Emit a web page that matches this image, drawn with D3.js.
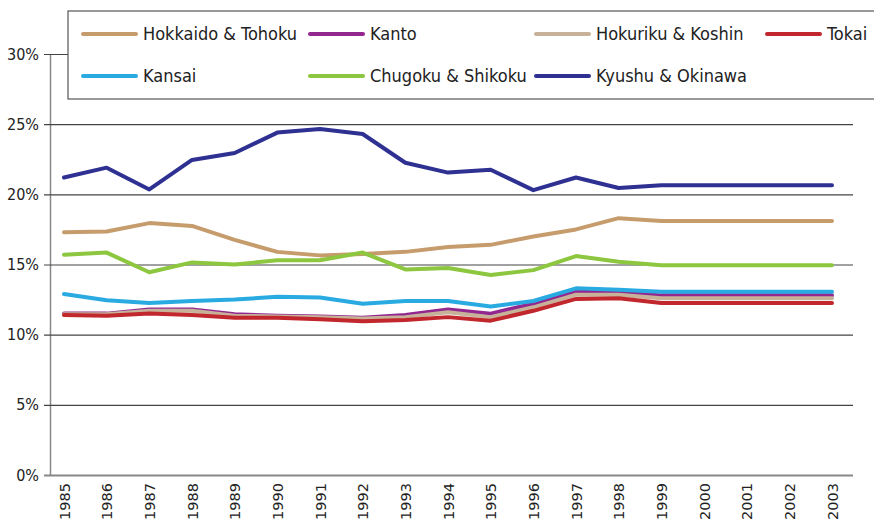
<!DOCTYPE html>
<html>
<head>
<meta charset="utf-8">
<script src="https://cdn.jsdelivr.net/npm/d3@7"></script>
<style>
  body { margin: 0; background: #fff; }
  svg { display: block; }
  .lbl { font-family: "Liberation Sans Narrow", "DejaVu Sans Condensed", sans-serif; fill: #222; }
  .yr { font-family: "DejaVu Sans", sans-serif; font-size: 14.5px; fill: #222; }
</style>
</head>
<body>
<svg id="chart"></svg>
<script>
// years along the x axis
var years = ["1985","1986","1987","1988","1989","1990","1991","1992","1993","1994",
             "1995","1996","1997","1998","1999","2000","2001","2002","2003"];
var yTicks = [0, 5, 10, 15, 20, 25, 30];

// regional shares in %
var hokkaido = [17.3,17.35,17.95,17.75,16.75,15.9,15.65,15.75,15.9,16.25,16.4,17.0,17.5,18.3,18.1,18.1,18.1,18.1,18.1];
var kanto    = [11.5,11.5,11.8,11.8,11.45,11.35,11.3,11.2,11.4,11.8,11.5,12.2,13.05,13.0,12.8,12.8,12.8,12.8,12.8];
var hokuriku = [11.45,11.45,11.7,11.7,11.35,11.3,11.25,11.15,11.25,11.6,11.25,11.95,12.85,12.85,12.6,12.6,12.6,12.6,12.6];
var tokai    = [11.4,11.35,11.5,11.4,11.2,11.2,11.1,10.95,11.05,11.25,11.0,11.7,12.55,12.6,12.25,12.25,12.25,12.25,12.25];
var kansai   = [12.9,12.45,12.25,12.4,12.5,12.7,12.65,12.2,12.4,12.4,12.0,12.4,13.3,13.2,13.05,13.05,13.05,13.05,13.05];
var chugoku  = [15.7,15.85,14.45,15.15,15.0,15.3,15.3,15.85,14.65,14.75,14.25,14.6,15.6,15.2,14.95,14.95,14.95,14.95,14.95];
var kyushu   = [21.2,21.9,20.35,22.45,22.95,24.4,24.65,24.3,22.25,21.55,21.75,20.3,21.2,20.45,20.65,20.65,20.65,20.65,20.65];

var seriesNames  = ["Hokkaido & Tohoku","Kanto","Hokuriku & Koshin","Tokai","Kansai","Chugoku & Shikoku","Kyushu & Okinawa"];
var seriesValues = [hokkaido, kanto, hokuriku, tokai, kansai, chugoku, kyushu];
var seriesColors = ["#c69c6d","#92278f","#c7b299","#c1272d","#29abe2","#8dc63f","#2e3192"];

var width = 874, height = 525;
var svg = d3.select("#chart").attr("width", width).attr("height", height);

var x = d3.scalePoint().domain(years).range([64, 832]);
var y = d3.scaleLinear().domain([0, 30]).range([475, 54]);

// grid lines + y labels
var yAxis = d3.axisLeft(y).tickValues(yTicks).tickFormat(function (d) { return d + "%"; })
    .tickSize(-(853 - 50)).tickSizeOuter(0).tickPadding(12);
var gy = svg.append("g").attr("transform", "translate(50,0)").call(yAxis);
gy.select(".domain").attr("stroke", "#888").attr("stroke-width", 1.5);
gy.selectAll(".tick line").attr("x1", -6).attr("stroke", function (d) { return d === 0 ? "#888" : "#444"; })
  .attr("stroke-width", function (d) { return d === 0 ? 2 : 1.2; });
gy.selectAll(".tick text").attr("class", "lbl").style("font-size", "16px").attr("x", -11);

// x labels, rotated
var gx = svg.append("g").attr("transform", "translate(0,475)")
    .call(d3.axisBottom(x).tickSize(0).tickPadding(0));
gx.select(".domain").remove();
gx.selectAll(".tick text").attr("class", "yr")
  .attr("transform", "rotate(-90)").attr("x", -8).attr("y", 0).attr("dy", "0.35em")
  .style("text-anchor", "end");

// lines
var line = d3.line().x(function (d, i) { return x(years[i]); }).y(function (d) { return y(d); });
svg.append("g").selectAll("path").data(seriesValues).enter().append("path")
  .attr("d", line).attr("fill", "none")
  .attr("stroke", function (d, i) { return seriesColors[i]; })
  .attr("stroke-width", 4).attr("stroke-linejoin", "round").attr("stroke-linecap", "round");

// legend box
svg.append("rect").attr("x", 68).attr("y", 11).attr("width", 830).attr("height", 88)
  .attr("fill", "#fff").attr("stroke", "#555").attr("stroke-width", 1.2);

var legendX = [83, 310, 536, 767], legendY = [34, 76];
var leg = svg.append("g").selectAll("g").data(seriesNames).enter().append("g")
  .attr("transform", function (d, i) { return "translate(" + legendX[i % 4] + "," + legendY[Math.floor(i / 4)] + ")"; });
leg.append("line").attr("x1", 0).attr("x2", 53).attr("stroke-width", 4).attr("stroke-linecap", "round")
  .attr("stroke", function (d, i) { return seriesColors[i]; });
leg.append("text").attr("class", "lbl").attr("x", 60).attr("dy", "0.36em")
  .style("font-size", "18px").text(function (d) { return d; });
</script>
</body>
</html>
